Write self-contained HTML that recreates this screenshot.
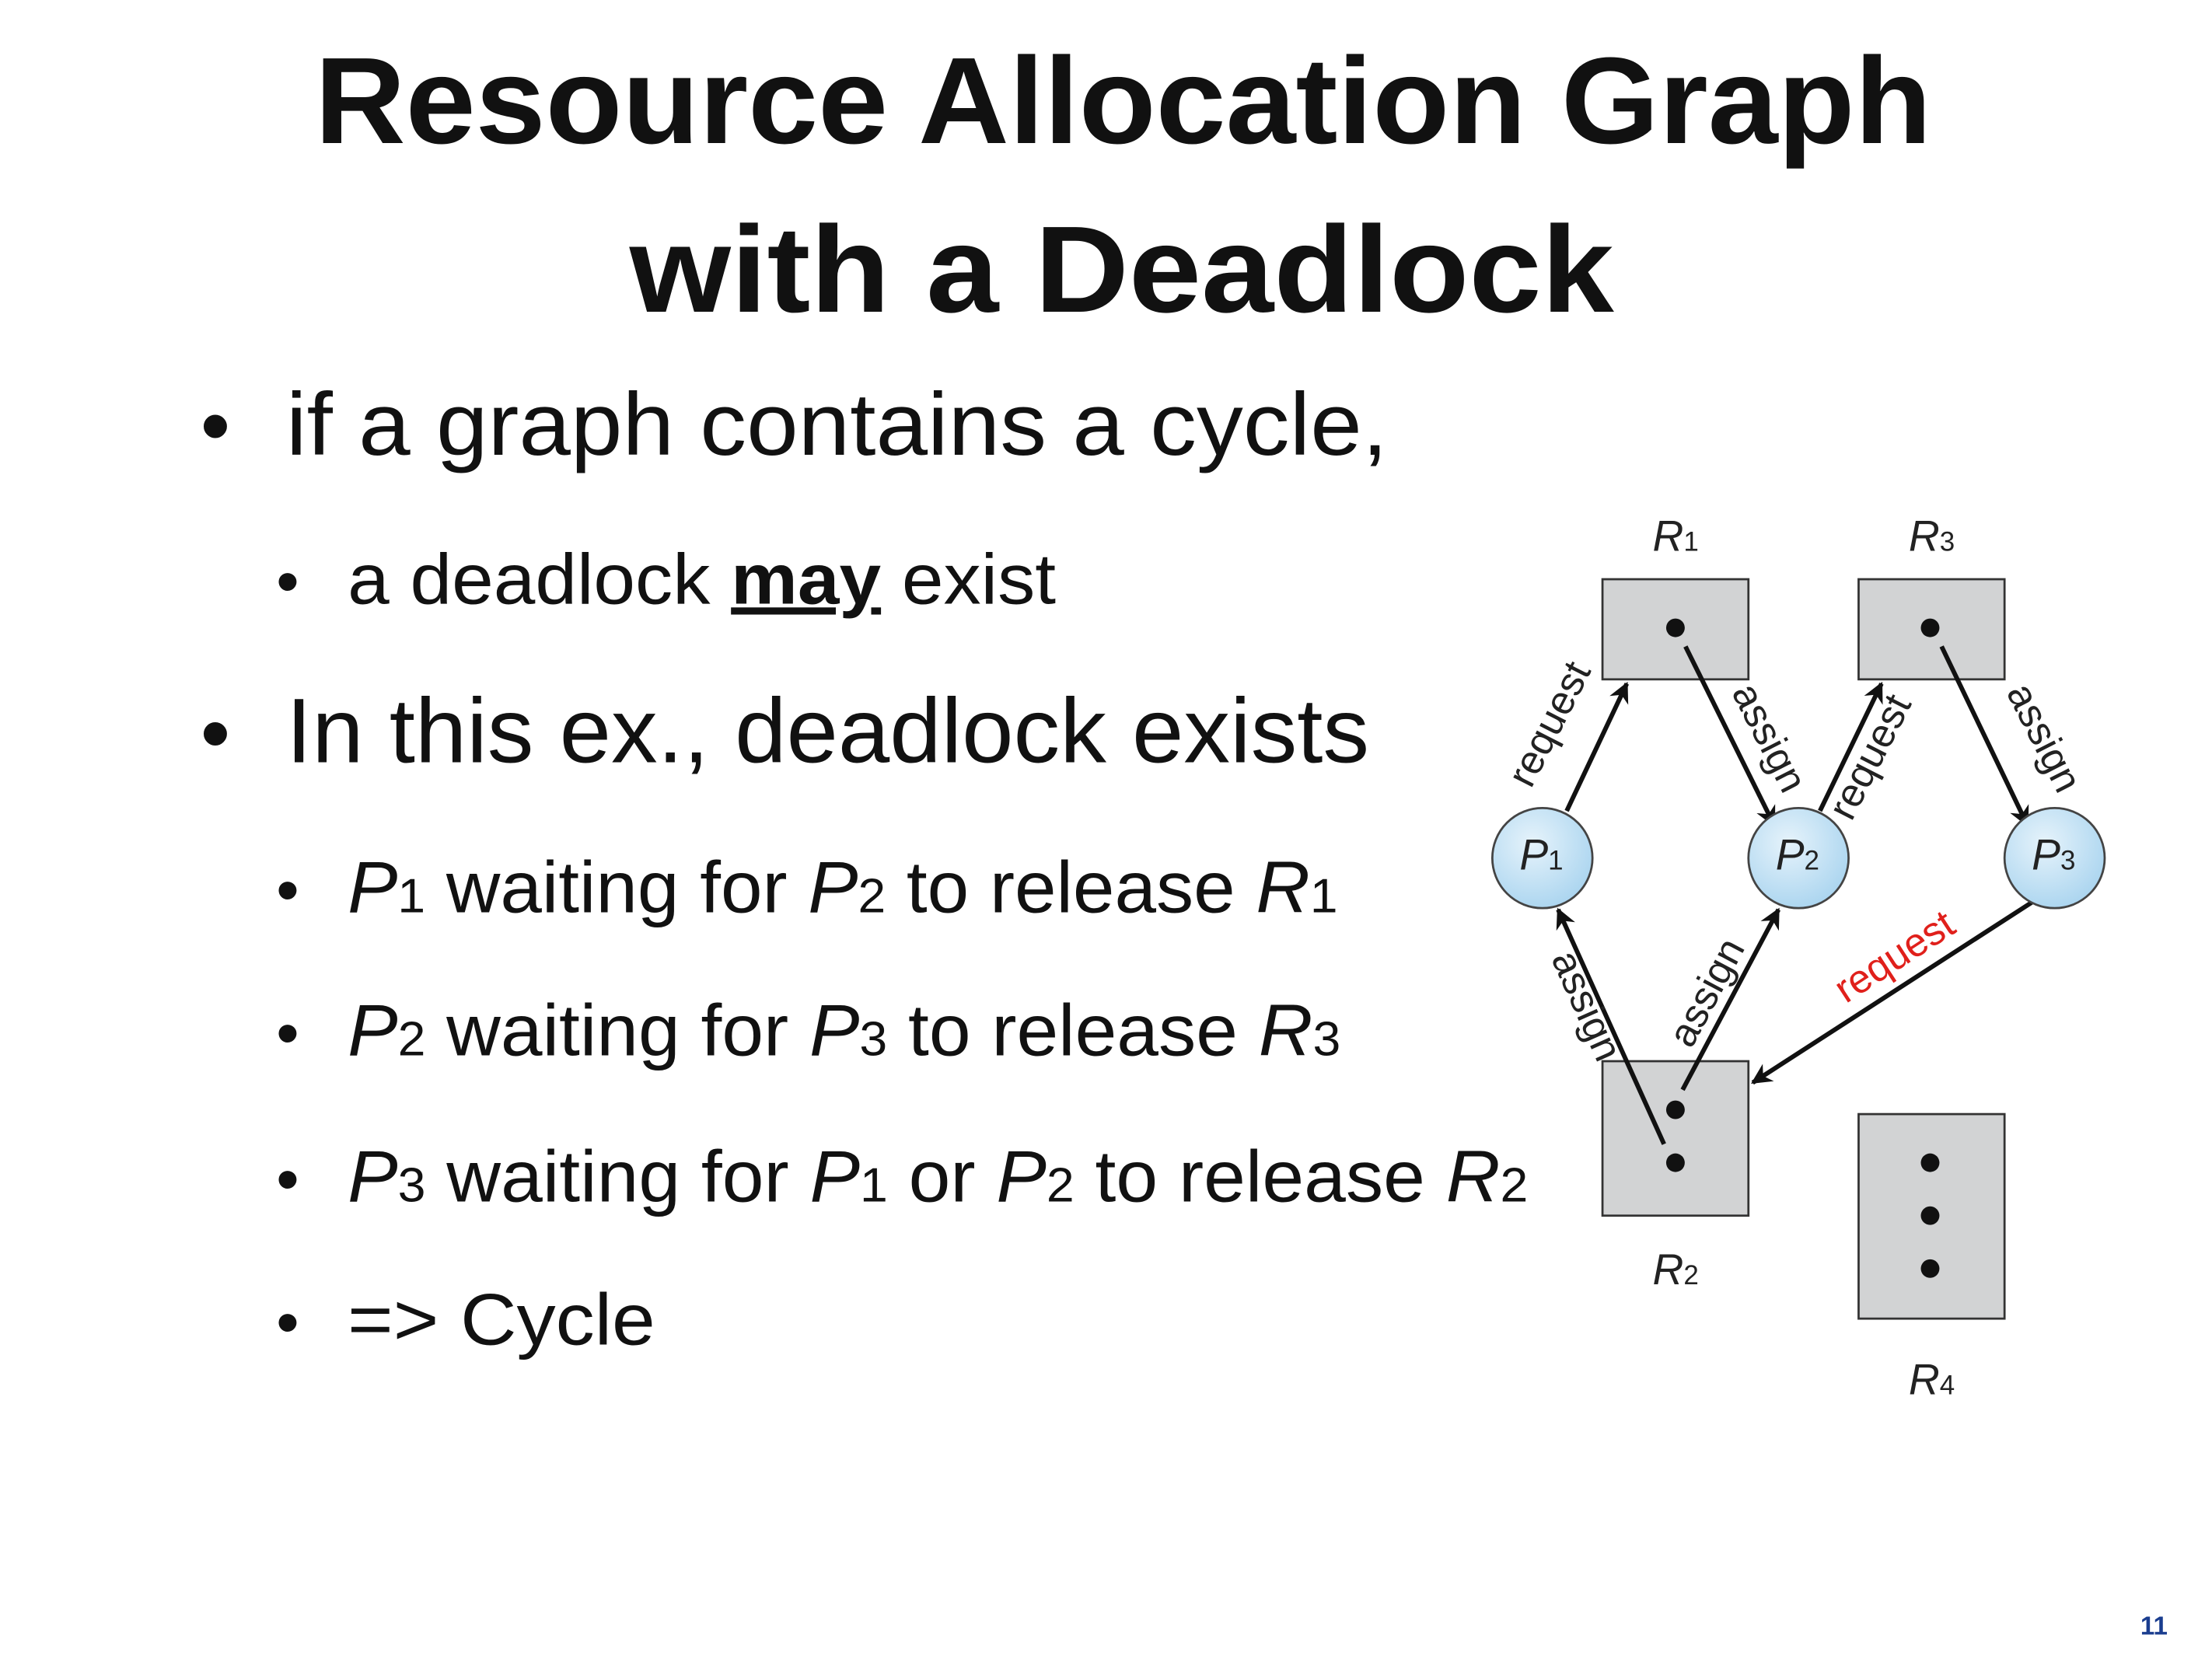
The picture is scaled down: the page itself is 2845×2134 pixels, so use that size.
<!DOCTYPE html>
<html><head><meta charset="utf-8">
<style>
html,body{margin:0;padding:0;background:#fff;}
svg{display:block;}
</style></head>
<body>
<svg width="2845" height="2134" viewBox="0 0 1546 1160" preserveAspectRatio="none" xmlns="http://www.w3.org/2000/svg">
<defs>
<marker id="ah" viewBox="0 0 10 10" refX="9" refY="5" markerWidth="4.5" markerHeight="4.5" orient="auto-start-reverse" markerUnits="strokeWidth">
<path d="M0,0 L10,5 L0,10 L3,5 z" fill="#111"/>
</marker>
<radialGradient id="pg" cx="40%" cy="35%" r="70%">
<stop offset="0" stop-color="#e6f3fb"/><stop offset="1" stop-color="#a9d4ef"/>
</radialGradient>
</defs>
<rect width="1546" height="1160" fill="#fff"/>
<g font-family="Liberation Sans, sans-serif" fill="#111">
<text x="220" y="100" font-size="86" font-weight="bold" textLength="1130" lengthAdjust="spacingAndGlyphs">Resource Allocation Graph</text>
<text x="440" y="218" font-size="86" font-weight="bold" textLength="688" lengthAdjust="spacingAndGlyphs">with a Deadlock</text>

<text x="140" y="318" font-size="60">•</text>
<text x="200" y="318" font-size="62" textLength="770" lengthAdjust="spacingAndGlyphs">if a graph contains a cycle,</text>
<text x="193" y="422" font-size="46">•</text>
<text x="243" y="422" font-size="50" textLength="495" lengthAdjust="spacingAndGlyphs">a deadlock <tspan font-weight="bold" text-decoration="underline">may</tspan> exist</text>
<text x="140" y="533" font-size="60">•</text>
<text x="200" y="533" font-size="64" textLength="757" lengthAdjust="spacingAndGlyphs">In this ex., deadlock exists</text>
<g font-size="51">
<text x="193" y="638" font-size="46">•</text>
<text x="243" y="638" textLength="692" lengthAdjust="spacingAndGlyphs"><tspan font-style="italic">P</tspan><tspan font-size="34">1</tspan> waiting for <tspan font-style="italic">P</tspan><tspan font-size="34">2</tspan> to release <tspan font-style="italic">R</tspan><tspan font-size="34">1</tspan></text>
<text x="193" y="738" font-size="46">•</text>
<text x="243" y="738" textLength="694" lengthAdjust="spacingAndGlyphs"><tspan font-style="italic">P</tspan><tspan font-size="34">2</tspan> waiting for <tspan font-style="italic">P</tspan><tspan font-size="34">3</tspan> to release <tspan font-style="italic">R</tspan><tspan font-size="34">3</tspan></text>
<text x="193" y="840" font-size="46">•</text>
<text x="243" y="840" textLength="825" lengthAdjust="spacingAndGlyphs"><tspan font-style="italic">P</tspan><tspan font-size="34">3</tspan> waiting for <tspan font-style="italic">P</tspan><tspan font-size="34">1</tspan> or <tspan font-style="italic">P</tspan><tspan font-size="34">2</tspan> to release <tspan font-style="italic">R</tspan><tspan font-size="34">2</tspan></text>
<text x="193" y="940" font-size="46">•</text>
<text x="243" y="940" textLength="215" lengthAdjust="spacingAndGlyphs">=&gt; Cycle</text>
</g>
<text x="1515" y="1143" font-size="18" font-weight="bold" fill="#1a3d8f" text-anchor="end">11</text>
</g>

<!-- diagram -->
<g stroke="#333" stroke-width="1.5" fill="#d2d3d4">
<rect x="1120" y="405" width="102" height="70"/>
<rect x="1299" y="405" width="102" height="70"/>
<rect x="1120" y="742" width="102" height="108"/>
<rect x="1299" y="779" width="102" height="143"/>
</g>
<g fill="#111">
<circle cx="1171" cy="439" r="6.5"/>
<circle cx="1349" cy="439" r="6.5"/>
<circle cx="1171" cy="776" r="6.5"/>
<circle cx="1171" cy="813" r="6.5"/>
<circle cx="1349" cy="813" r="6.5"/>
<circle cx="1349" cy="850" r="6.5"/>
<circle cx="1349" cy="887" r="6.5"/>
</g>
<g stroke="#111" stroke-width="3.2" marker-end="url(#ah)">
<line x1="1095" y1="567" x2="1137" y2="478"/>
<line x1="1178" y1="452" x2="1240" y2="577"/>
<line x1="1272" y1="567" x2="1315" y2="478"/>
<line x1="1357" y1="452" x2="1417" y2="577"/>
<line x1="1163" y1="800" x2="1089" y2="636"/>
<line x1="1176" y1="762" x2="1243" y2="636"/>
<line x1="1420" y1="631" x2="1225" y2="757"/>
</g>
<g stroke="#444" stroke-width="1.5" fill="url(#pg)">
<ellipse cx="1078" cy="600" rx="35" ry="35"/>
<ellipse cx="1257" cy="600" rx="35" ry="35"/>
<ellipse cx="1436" cy="600" rx="35" ry="35"/>
</g>
<g font-family="Liberation Sans, sans-serif" fill="#222" font-style="italic">
<text x="1062" y="608" font-size="30">P<tspan font-size="19" font-style="normal">1</tspan></text>
<text x="1241" y="608" font-size="30">P<tspan font-size="19" font-style="normal">2</tspan></text>
<text x="1420" y="608" font-size="30">P<tspan font-size="19" font-style="normal">3</tspan></text>
<text x="1155" y="385" font-size="30">R<tspan font-size="19" font-style="normal">1</tspan></text>
<text x="1334" y="385" font-size="30">R<tspan font-size="19" font-style="normal">3</tspan></text>
<text x="1155" y="898" font-size="30">R<tspan font-size="19" font-style="normal">2</tspan></text>
<text x="1334" y="975" font-size="30">R<tspan font-size="19" font-style="normal">4</tspan></text>
</g>
<g font-family="Liberation Sans, sans-serif" font-size="28" fill="#222">
<text transform="translate(1070,552) rotate(-63)">request</text>
<text transform="translate(1210,484) rotate(63)">assign</text>
<text transform="translate(1294,575) rotate(-63)">request</text>
<text transform="translate(1402,484) rotate(63)">assign</text>
<text transform="translate(1084,670) rotate(66)">assign</text>
<text transform="translate(1182,734) rotate(-62)">assign</text>
<text transform="translate(1290,702) rotate(-33)" fill="#e0201b">request</text>
</g>
</svg>
</body></html>
